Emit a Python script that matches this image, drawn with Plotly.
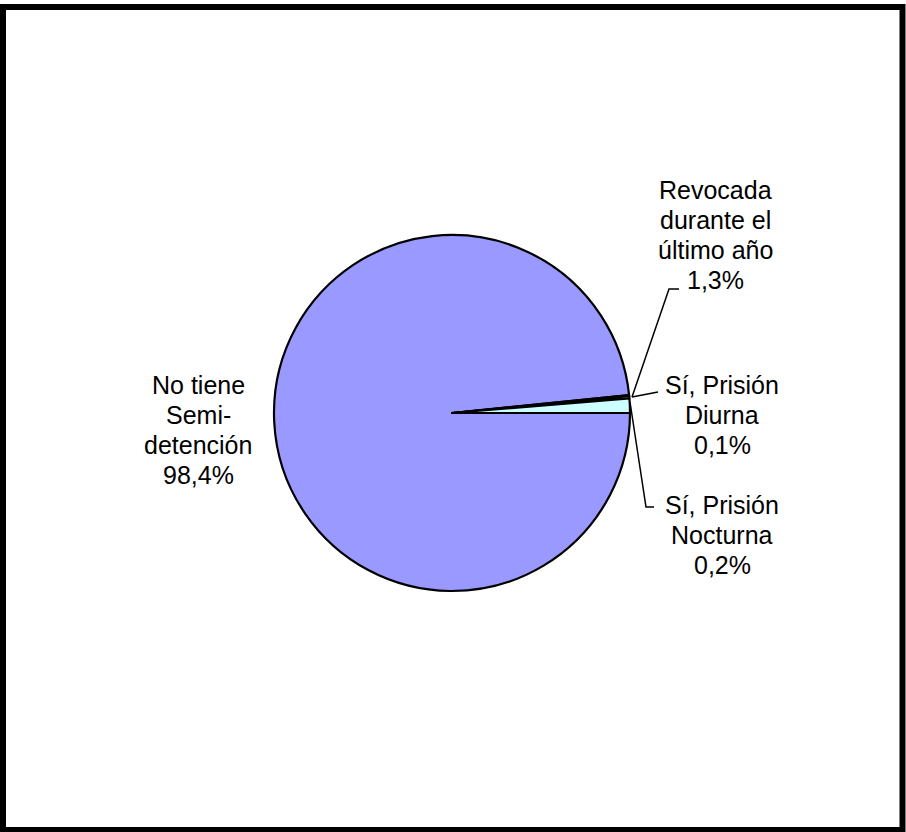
import plotly.graph_objects as go

# ── Data ──────────────────────────────────────────────────────────────────────
CATEGORIES = [
    "No tiene Semi-detención",
    "Sí, Prisión Diurna",
    "Sí, Prisión Nocturna",
    "Revocada durante el último año",
]
VALUES = [98.4, 0.1, 0.2, 1.3]
LABEL_LINES = [
    ["No tiene", "Semi-", "detención", "98,4%"],
    ["Sí, Prisión", "Diurna", "0,1%"],
    ["Sí, Prisión", "Nocturna", "0,2%"],
    ["Revocada", "durante el", "último año", "1,3%"],
]

# ── Style ─────────────────────────────────────────────────────────────────────
COLORS = ["#9999FF", "#993366", "#FFFFCC", "#CCFFFF"]
FONT = "Liberation Sans, Arial, sans-serif"
W, H = 906, 832
LINE_H = 30

# label block anchors in pixels: (center x, first-line center y)
LABEL_POS = [(198, 385), (722, 385), (722, 505), (715, 190)]

# leader lines (pixel paths)
LEADERS = [
    [(679, 289), (669, 289), (632, 397)],
    [(632, 397), (658, 392)],
    [(630, 402), (646, 507), (654, 507)],
]


def px(x, y):
    return x / W, 1 - y / H


fig = go.Figure(
    go.Pie(
        labels=CATEGORIES,
        values=VALUES,
        sort=False,
        direction="clockwise",
        rotation=90,
        textinfo="none",
        marker=dict(colors=COLORS, line=dict(color="#000000", width=2.2)),
        domain=dict(x=[274 / W, 630 / W], y=[1 - 591 / H, 1 - 235 / H]),
        hovertemplate="<b>%{label}</b><br>%{percent}<extra></extra>",
    )
)

for lines, (cx, cy) in zip(LABEL_LINES, LABEL_POS):
    for i, line in enumerate(lines):
        x, y = px(cx, cy + i * LINE_H)
        fig.add_annotation(
            text=line,
            x=x,
            y=y,
            xref="paper",
            yref="paper",
            xanchor="center",
            yanchor="middle",
            showarrow=False,
            font=dict(family=FONT, size=25, color="#000000"),
        )

for pts in LEADERS:
    path = "M " + " L ".join(f"{px(x, y)[0]},{px(x, y)[1]}" for x, y in pts)
    fig.add_shape(
        type="path",
        path=path,
        xref="paper",
        yref="paper",
        line=dict(color="#000000", width=1.5),
    )

# outer frame
fig.add_shape(
    type="rect",
    xref="paper",
    yref="paper",
    x0=3 / W,
    x1=902.5 / W,
    y0=1 - 830 / H,
    y1=1 - 7 / H,
    line=dict(color="#000000", width=6),
)

fig.update_layout(
    width=W,
    height=H,
    margin=dict(l=0, r=0, t=0, b=0),
    paper_bgcolor="#FFFFFF",
    plot_bgcolor="#FFFFFF",
    showlegend=False,
)

fig.write_html(
    "out.html",
    config={"displayModeBar": False},
    post_script="document.body.style.margin='0';document.body.style.overflow='hidden';",
)
